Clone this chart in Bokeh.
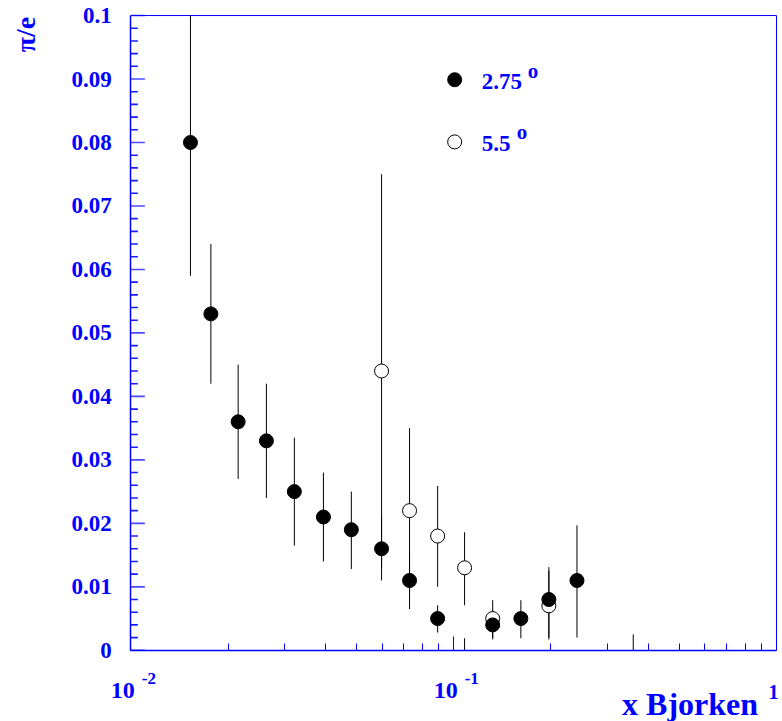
import math
from bokeh.plotting import figure
from bokeh.models import ColumnDataSource, Range1d, FixedTicker, Label
from bokeh.embed import file_html
from bokeh.resources import INLINE

# pi/e ratio versus x Bjorken, two spectrometer angles
x_275 = [0.0153, 0.0177, 0.0215, 0.0263, 0.0321, 0.0395, 0.0482, 0.0598,
         0.0730, 0.0892, 0.1081, 0.1321, 0.1615, 0.1972, 0.2410, 0.3600]
y_275 = [0.080, 0.053, 0.036, 0.033, 0.025, 0.021, 0.019, 0.016,
         0.011, 0.005, -0.004, 0.004, 0.005, 0.008, 0.011, -0.004]
lo_275 = [0.059, 0.042, 0.027, 0.024, 0.0165, 0.014, 0.0128, 0.011,
          0.0065, 0.0028, -0.010, 0.0017, 0.0019, 0.0017, 0.0020, -0.011]
hi_275 = [0.101, 0.064, 0.045, 0.042, 0.0335, 0.028, 0.025, 0.021,
          0.0155, 0.0071, 0.0019, 0.0063, 0.0079, 0.0131, 0.0197, 0.0025]

x_55 = [0.0598, 0.0730, 0.0892, 0.1081, 0.1321, 0.1972]
y_55 = [0.044, 0.022, 0.018, 0.013, 0.005, 0.007]
lo_55 = [0.013, 0.009, 0.010, 0.0071, 0.0020, 0.0020]
hi_55 = [0.075, 0.035, 0.0259, 0.0186, 0.0079, 0.0125]

y_ticks = [0.0, 0.01, 0.02, 0.03, 0.04, 0.05, 0.06, 0.07, 0.08, 0.09, 0.1]
y_tick_labels = ["0", "0.01", "0.02", "0.03", "0.04", "0.05", "0.06",
                 "0.07", "0.08", "0.09", "0.1"]
y_minor = [0.002, 0.004, 0.006, 0.008, 0.012, 0.014, 0.016, 0.018,
           0.022, 0.024, 0.026, 0.028, 0.032, 0.034, 0.036, 0.038,
           0.042, 0.044, 0.046, 0.048, 0.052, 0.054, 0.056, 0.058,
           0.062, 0.064, 0.066, 0.068, 0.072, 0.074, 0.076, 0.078,
           0.082, 0.084, 0.086, 0.088, 0.092, 0.094, 0.096, 0.098]

x_ticks = [0.01, 0.1, 1.0]
x_tick_base = ["10", "10", ""]
x_tick_exp = ["-2", "-1", "1"]
x_minor = [0.02, 0.03, 0.04, 0.05, 0.06, 0.07, 0.08, 0.09,
           0.2, 0.3, 0.4, 0.5, 0.6, 0.7, 0.8, 0.9]

legend_labels = ["2.75", "5.5"]
x_title = "x Bjorken"
y_title = "\u03c0/e"

BLUE = "#0000ff"
FONT = "Liberation Serif"
W, H = 782, 721

# axis box on the canvas, and the drawing area that holds it
BOX_L, BOX_R, BOX_T, BOX_B = 132, 776, 15, 648
AREA_L, AREA_R, AREA_T, AREA_B = 2, 782, 0, 719
X_MIN, X_MAX = x_ticks[0], x_ticks[-1]
Y_MIN, Y_MAX = y_ticks[0], y_ticks[-1]
DECADE = (BOX_R - BOX_L) / (math.log10(X_MAX) - math.log10(X_MIN))
PER_Y = (BOX_B - BOX_T) / (Y_MAX - Y_MIN)
MAJOR_LEN, MINOR_LEN = 14, 7


def px_x(px):
    return 10 ** (math.log10(X_MIN) + (px - BOX_L) / DECADE)


def px_y(py):
    return Y_MIN + (BOX_B - py) / PER_Y


p = figure(width=W, height=H, x_axis_type="log",
           x_range=Range1d(px_x(AREA_L), px_x(AREA_R)),
           y_range=Range1d(px_y(AREA_B), px_y(AREA_T)),
           output_backend="svg", toolbar_location=None,
           min_border_left=0, min_border_right=0,
           min_border_top=0, min_border_bottom=0)
p.outline_line_color = None
p.xgrid.visible = False
p.ygrid.visible = False

# axes sit on the box edges; their own labels are replaced by the texts
# placed further down
for ax in (p.xaxis[0], p.yaxis[0]):
    ax.axis_line_color = BLUE
    ax.axis_line_width = 1.5
    ax.major_tick_line_color = BLUE
    ax.minor_tick_line_color = BLUE
    ax.major_tick_in = MAJOR_LEN
    ax.major_tick_out = 0
    ax.minor_tick_in = MINOR_LEN
    ax.minor_tick_out = 0
    ax.major_label_text_alpha = 0.0
    ax.major_label_text_font_size = "1px"
    ax.major_label_standoff = 0

p.xaxis.ticker = FixedTicker(ticks=x_ticks, minor_ticks=x_minor)
p.xaxis.fixed_location = Y_MIN
p.xaxis.bounds = (X_MIN, X_MAX)
p.yaxis.ticker = FixedTicker(ticks=y_ticks, minor_ticks=y_minor)
p.yaxis.fixed_location = X_MIN
p.yaxis.bounds = (Y_MIN, Y_MAX)
p.yaxis.major_tick_line_color = None
p.yaxis.minor_tick_line_color = None

# inward ticks along the left edge, as thin filled bars
TICK_H = 1.6 / PER_Y
p.hbar(y=y_ticks, left=X_MIN, right=px_x(BOX_L + MAJOR_LEN), height=TICK_H,
       fill_color=BLUE, fill_alpha=0.7, line_color=None)
p.hbar(y=y_minor, left=X_MIN, right=px_x(BOX_L + MINOR_LEN), height=TICK_H,
       fill_color=BLUE, fill_alpha=0.9, line_color=None)

# top and right edges of the box
p.segment(x0=[X_MIN, X_MAX], y0=[Y_MAX, Y_MIN], x1=[X_MAX, X_MAX],
          y1=[Y_MAX, Y_MAX], line_color=BLUE, line_width=1)


def clip_rows(xs, ys, los, his):
    """Error bars cut at the axis range; markers only inside it."""
    bars = dict(x=xs, lo=[max(v, Y_MIN) for v in los],
                hi=[min(v, Y_MAX) for v in his])
    keep = [i for i, v in enumerate(ys) if Y_MIN <= v <= Y_MAX]
    pts = dict(x=[xs[i] for i in keep], y=[ys[i] for i in keep])
    return ColumnDataSource(bars), ColumnDataSource(pts)


bars_55, pts_55 = clip_rows(x_55, y_55, lo_55, hi_55)
bars_275, pts_275 = clip_rows(x_275, y_275, lo_275, hi_275)

# error bars and markers (open circles first, filled on top)
p.segment(x0="x", y0="lo", x1="x", y1="hi", source=bars_55,
          line_color="black", line_width=1)
p.segment(x0="x", y0="lo", x1="x", y1="hi", source=bars_275,
          line_color="black", line_width=1)
p.scatter(x="x", y="y", source=pts_55, size=14, marker="circle",
          fill_color="white", line_color="black", line_width=1)
p.scatter(x="x", y="y", source=pts_275, size=14, marker="circle",
          fill_color="black", line_color="black", line_width=1)

# legend markers
leg_x = px_x(455)
p.scatter(x=[leg_x], y=[px_y(79)], size=14, marker="circle",
          fill_color="black", line_color="black")
p.scatter(x=[leg_x], y=[px_y(141)], size=14, marker="circle",
          fill_color="white", line_color="black", line_width=1)


def add_text(text, x, y, size, x_offset=0, align="left", angle=0.0):
    p.add_layout(Label(x=x, y=y, text=text, x_offset=x_offset,
                       text_font=FONT, text_font_style="bold",
                       text_font_size=size, text_color=BLUE,
                       text_align=align, text_baseline="middle",
                       angle=angle))


# y tick labels
for yt, lab in zip(y_ticks, y_tick_labels):
    add_text(lab, X_MIN, yt, "23px", x_offset=-19, align="right")

# x tick labels as powers of ten
for xt, base, ex in zip(x_ticks, x_tick_base, x_tick_exp):
    if base:
        add_text(base, xt, px_y(688), "24px", x_offset=-20)
        add_text(ex, xt, px_y(676), "17px", x_offset=11)
    else:
        add_text(ex, xt, px_y(690), "20px", x_offset=-8)

# legend texts with degree marks
add_text(legend_labels[0], px_x(482), px_y(81), "23px")
add_text("o", px_x(528), px_y(70), "21px")
add_text(legend_labels[1], px_x(482), px_y(142.5), "23px")
add_text("o", px_x(517), px_y(131), "21px")

# axis titles
add_text(x_title, px_x(622), px_y(702), "32px")
add_text(y_title, px_x(27), px_y(34), "28px", align="center",
         angle=math.pi / 2)

open("out.html", "w").write(file_html(p, INLINE))
